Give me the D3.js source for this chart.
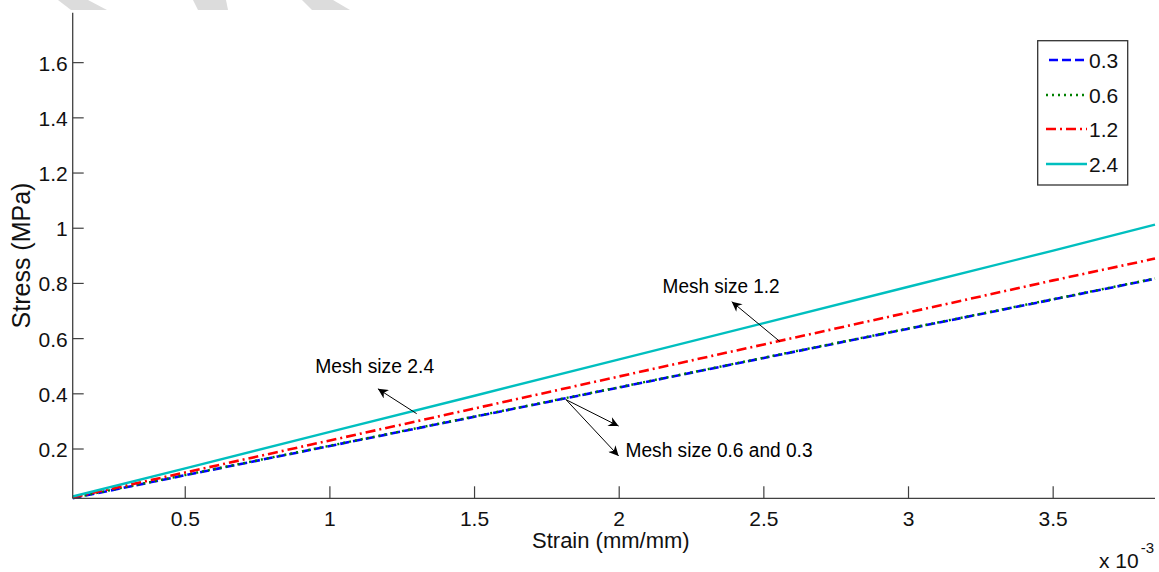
<!DOCTYPE html>
<html>
<head>
<meta charset="utf-8">
<script src="https://cdn.jsdelivr.net/npm/d3@7/dist/d3.min.js"></script>
<style>
  html, body { margin: 0; padding: 0; background: #fff; }
  svg { display: block; font-family: "Liberation Sans", Arial, sans-serif; }
</style>
</head>
<body>
<svg id="chart" width="1159" height="572"></svg>
<script>
// ---- Data (strain in 1e-3 mm/mm, stress in MPa) ----
const strain   = [0.111, 0.5, 1.0, 1.5, 2.0, 2.5, 3.0, 3.5, 3.852];
const stress03 = [0.022, 0.105, 0.211, 0.317, 0.423, 0.530, 0.636, 0.742, 0.817];
const stress06 = [0.023, 0.106, 0.212, 0.318, 0.424, 0.531, 0.637, 0.743, 0.818];
const stress12 = [0.025, 0.115, 0.231, 0.347, 0.463, 0.579, 0.695, 0.811, 0.890];
const stress24 = [0.028, 0.130, 0.262, 0.393, 0.525, 0.656, 0.788, 0.919, 1.013];
const seriesNames = ["0.3", "0.6", "1.2", "2.4"];
const xTicks = [0.5, 1, 1.5, 2, 2.5, 3, 3.5];
const yTicks = [0.2, 0.4, 0.6, 0.8, 1, 1.2, 1.4, 1.6];
const xDomain = [0.111, 3.852];
const yDomain = [0.0214, 1.781];

// annotations: text anchor + arrows (tail on line -> head) in data units
const annotations = [
  { text: "Mesh size 2.4", tx: 0.949, ty: 0.476, len: 119,
    arrows: [[1.300, 0.328, 1.166, 0.418]] },
  { text: "Mesh size 1.2", tx: 2.150, ty: 0.765, len: 117,
    arrows: [[2.556, 0.589, 2.389, 0.734]] },
  { text: "Mesh size 0.6 and 0.3", tx: 2.022, ty: 0.171, len: 187,
    arrows: [[1.816, 0.379, 1.998, 0.283], [1.816, 0.379, 1.998, 0.175]] }
];

const styles = [
  { color: "#0000ff", dash: "9,4", width: 2.6 },
  { color: "#008000", dash: "2,4", width: 2.4 },
  { color: "#ff0000", dash: "10,4,2,4", width: 2.6 },
  { color: "#00bfbf", dash: null, width: 2.4 }
];
const allSeries = [stress03, stress06, stress12, stress24];

const svg = d3.select("#chart");
const pLeft = 72.7, pRight = 1155, pTop = 12.7, pBottom = 498.3;

const x = d3.scaleLinear().domain(xDomain).range([pLeft, pRight]);
const y = d3.scaleLinear().domain(yDomain).range([pBottom, pTop]);

// faint watermark fragments at top edge
const wm = [
  [[58,0],[88,0],[107,10],[71,10]],
  [[193,0],[226,0],[228,10],[198,10]],
  [[302,0],[333,0],[350,10],[312,10]]
];
svg.append("g").selectAll("polygon").data(wm).join("polygon")
  .attr("points", d => d.map(p => p.join(",")).join(" "))
  .attr("fill", "#dcdcdc");

// series lines
const line = d3.line().x((d, i) => x(strain[i])).y(d => y(d));
const gLines = svg.append("g");
allSeries.forEach((s, k) => {
  gLines.append("path")
    .attr("d", line(s))
    .attr("fill", "none")
    .attr("stroke", styles[k].color)
    .attr("stroke-width", styles[k].width)
    .attr("stroke-dasharray", styles[k].dash);
});

// axes
const axisColor = "#404040";
const gAx = svg.append("g");
gAx.append("line").attr("x1", pLeft).attr("x2", pLeft).attr("y1", pTop).attr("y2", pBottom)
  .attr("stroke", axisColor).attr("stroke-width", 1.3);
gAx.append("line").attr("x1", pLeft).attr("x2", pRight).attr("y1", pBottom).attr("y2", pBottom)
  .attr("stroke", axisColor).attr("stroke-width", 1.3);

gAx.selectAll(".yt").data(yTicks).join("line")
  .attr("x1", pLeft).attr("x2", pLeft + 11)
  .attr("y1", d => y(d)).attr("y2", d => y(d))
  .attr("stroke", axisColor).attr("stroke-width", 1.2);
gAx.selectAll(".ytl").data(yTicks).join("text")
  .attr("x", pLeft - 5).attr("y", d => y(d) + 8)
  .attr("text-anchor", "end").attr("font-size", 21).attr("fill", "#111")
  .text(d => d3.format("")(d));

gAx.selectAll(".xt").data(xTicks).join("line")
  .attr("x1", d => x(d)).attr("x2", d => x(d))
  .attr("y1", pBottom).attr("y2", pBottom - 12)
  .attr("stroke", axisColor).attr("stroke-width", 1.2);
gAx.selectAll(".xtl").data(xTicks).join("text")
  .attr("x", d => x(d)).attr("y", pBottom + 28)
  .attr("text-anchor", "middle").attr("font-size", 21).attr("fill", "#111")
  .text(d => d3.format("")(d));

// axis titles
svg.append("text").attr("x", (pLeft + pRight) / 2 - 3).attr("y", 548)
  .attr("text-anchor", "middle").attr("font-size", 22).attr("fill", "#111")
  .text("Strain (mm/mm)");
svg.append("text")
  .attr("transform", `translate(30,${(pTop + pBottom) / 2}) rotate(-90)`)
  .attr("text-anchor", "middle").attr("font-size", 25).attr("fill", "#111")
  .text("Stress (MPa)");

// exponent label
const ex = svg.append("text").attr("x", 1099).attr("y", 568).attr("font-size", 21).attr("fill", "#111");
ex.append("tspan").text("x 10");
ex.append("tspan").attr("dx", 2).attr("dy", -15).attr("font-size", 15).text("-3");

// legend
const lg = svg.append("g");
lg.append("rect").attr("x", 1037.7).attr("y", 40.7).attr("width", 90).attr("height", 144.3)
  .attr("fill", "#fff").attr("stroke", "#333").attr("stroke-width", 1.3);
const legendY = [60, 95, 129, 164];
seriesNames.forEach((n, k) => {
  lg.append("line")
    .attr("x1", k === 0 ? 1049 : 1046).attr("x2", 1087)
    .attr("y1", legendY[k]).attr("y2", legendY[k])
    .attr("stroke", styles[k].color).attr("stroke-width", styles[k].width)
    .attr("stroke-dasharray", k === 0 ? "9,4" : styles[k].dash);
  lg.append("text").attr("x", 1089).attr("y", legendY[k] + 8)
    .attr("font-size", 21).attr("fill", "#111").text(n);
});

// annotations
const defs = svg.append("defs");
defs.append("marker").attr("id", "ah").attr("viewBox", "0 0 10 10")
  .attr("refX", 10).attr("refY", 5).attr("markerWidth", 12).attr("markerHeight", 10)
  .attr("markerUnits", "userSpaceOnUse").attr("orient", "auto")
  .append("path").attr("d", "M0,0 L10,5 L0,10 L3,5 Z").attr("fill", "#000");

const ga = svg.append("g");
annotations.forEach(a => {
  ga.append("text").attr("x", x(a.tx)).attr("y", y(a.ty))
    .attr("font-size", 20).attr("fill", "#000")
    .attr("textLength", a.len).attr("lengthAdjust", "spacingAndGlyphs")
    .text(a.text);
  a.arrows.forEach(r => {
    ga.append("line")
      .attr("x1", x(r[0])).attr("y1", y(r[1]))
      .attr("x2", x(r[2])).attr("y2", y(r[3]))
      .attr("stroke", "#000").attr("stroke-width", 1)
      .attr("marker-end", "url(#ah)");
  });
});
</script>
</body>
</html>
